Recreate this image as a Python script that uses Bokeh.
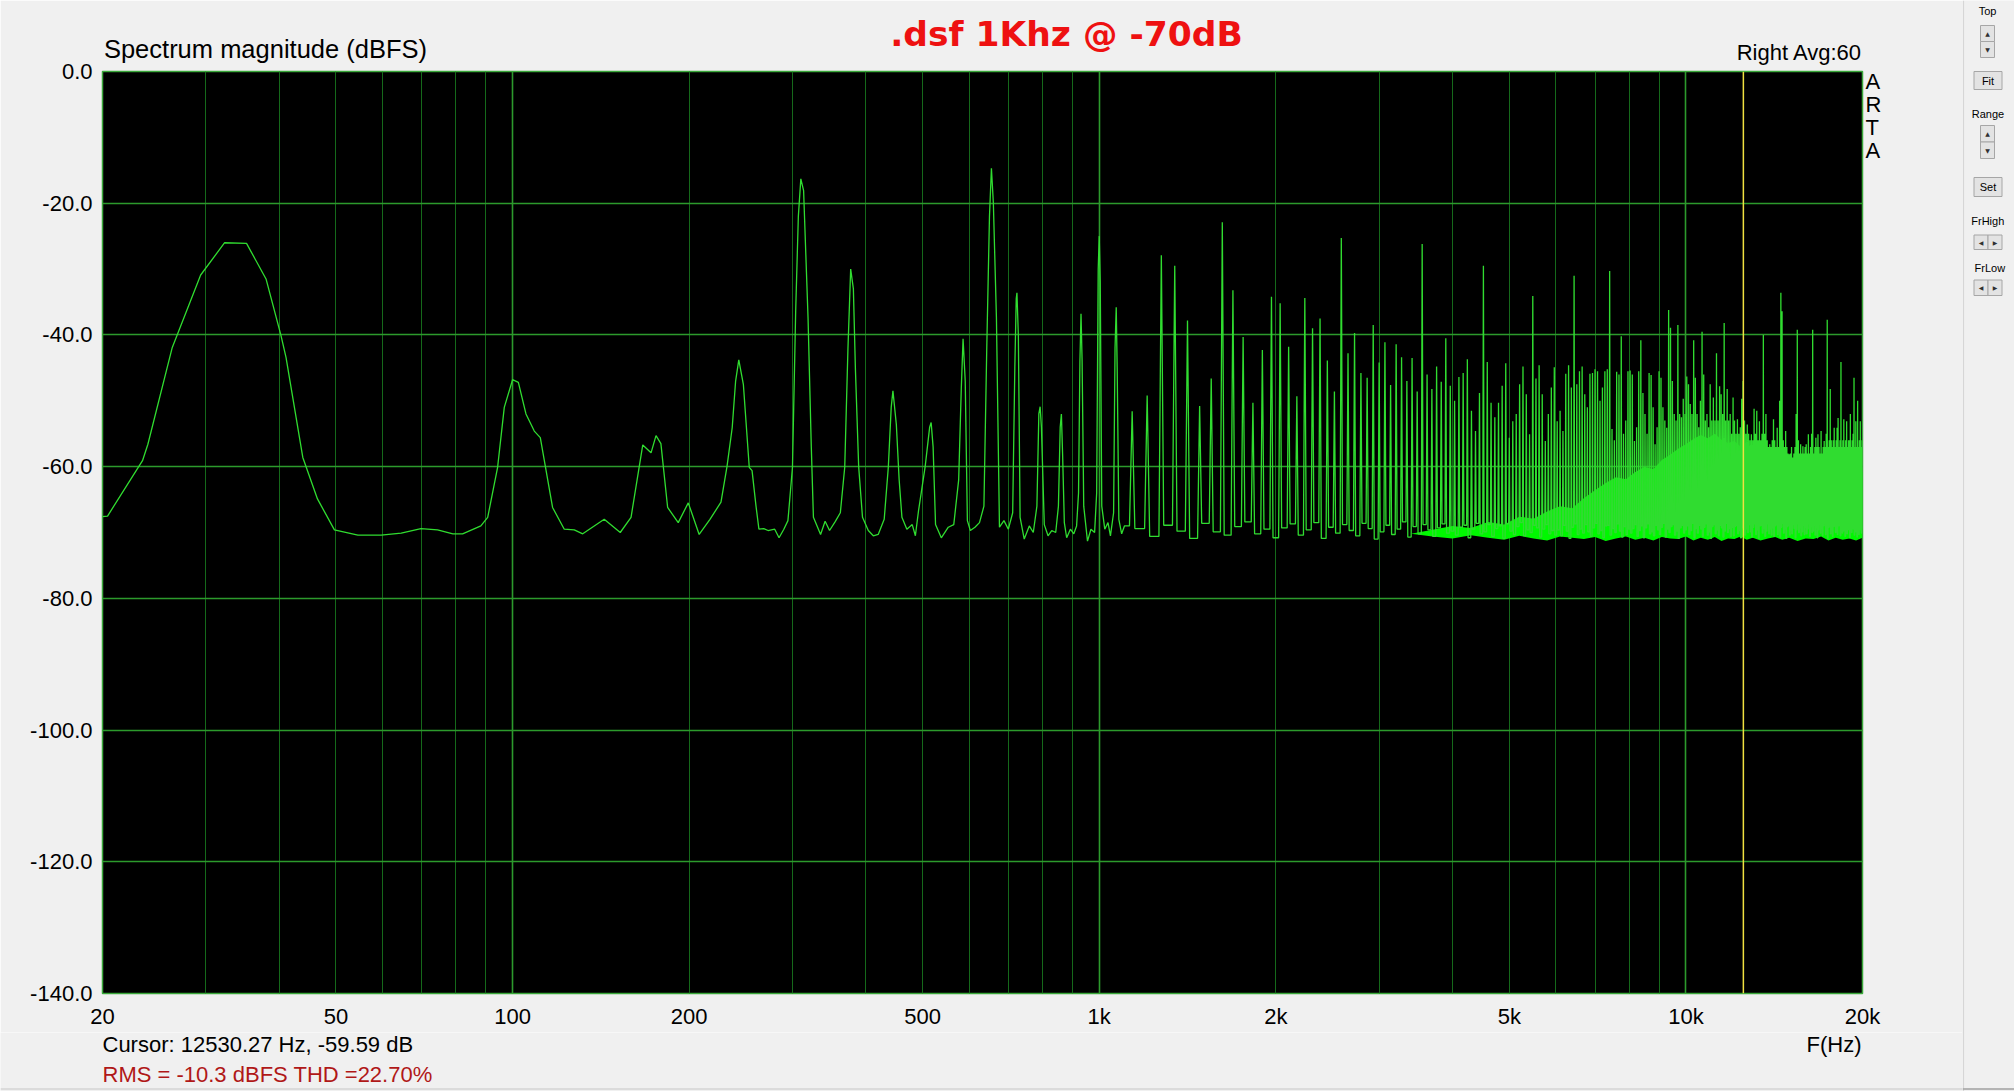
from bokeh.plotting import figure
from bokeh.models import Range1d, FixedTicker, Span, Grid, LogAxis, LinearAxis
from bokeh.layouts import row, column
from bokeh.embed import file_html
from bokeh.resources import INLINE
from bokeh.core.properties import value

# ---------------- texts ----------------
title_text = ".dsf 1Khz @ -70dB"
y_title = "Spectrum magnitude (dBFS)"
channel_text = "Right  Avg:60"
cursor_text = "Cursor: 12530.27 Hz, -59.59 dB"
stats_text = "RMS =  -10.3 dBFS  THD =22.70%"
x_unit_text = "F(Hz)"
side_text = ["A", "R", "T", "A"]
cursor_f = 12530.27

# ---------------- axes ----------------
x_ticks = [20, 50, 100, 200, 500, 1000, 2000, 5000, 10000, 20000]
x_tick_labels = ["20", "50", "100", "200", "500", "1k", "2k", "5k", "10k", "20k"]
x_grid_minor = [30, 40, 50, 60, 70, 80, 90, 200, 300, 400, 500, 600, 700, 800, 900,
                2000, 3000, 4000, 5000, 6000, 7000, 8000, 9000]
x_grid_decade = [100, 1000, 10000]
y_ticks = [0, -20, -40, -60, -80, -100, -120, -140]
y_tick_labels = ["0.0", "-20.0", "-40.0", "-60.0", "-80.0", "-100.0", "-120.0", "-140.0"]

# ---------------- spectrum: low band trace 20 Hz .. 1.1 kHz ----------------
low_f = [20, 20.4, 23.4, 23.9, 26.3, 29.4, 32.3, 35.2, 38.0, 40.3, 41.1, 43.9, 46.5, 49.7,
         54.5, 59.7, 64.6, 69.8, 74.5, 79.1, 82.2, 88.3, 90.7, 94.3, 96.8, 100, 102.3, 105.4,
         108.9, 111.5, 117, 122.5, 127.4, 131.7, 143.3, 152.6, 159.2, 166.7, 172.2, 175.6, 179,
         183.8, 191.6, 199.3, 208, 217, 226.6, 232, 236.8, 240, 243, 247.4, 253.2, 256, 260,
         263, 268, 272.6, 279.8, 284.6, 290, 294.7, 300, 303.8, 307, 310, 313.4, 318.9, 323,
         325.7, 335, 341, 347, 355, 362, 368.3, 373, 377, 381, 384, 389, 394.9, 404, 412, 420,
         430, 437, 442, 445, 451, 456, 461, 470, 480, 486, 492, 505, 514, 517, 521, 526, 538,
         553, 565, 576, 582, 586, 591, 596, 603, 614, 625, 636, 643, 650, 655, 660, 668, 676,
         688, 700, 712, 718, 722, 724, 728, 733, 745, 760, 772, 783, 789, 793, 797, 806, 818,
         830, 843, 852, 858, 862, 866, 872, 880, 893, 905, 915, 922, 927, 931, 935, 941, 955,
         968, 982, 990, 996, 1000, 1004, 1010, 1022, 1035, 1045, 1058, 1064, 1069, 1073, 1080,
         1092, 1104]
low_db = [-67.6, -67.5, -59.1, -56.6, -41.9, -30.9, -26.0, -26.1, -31.5, -40.1, -43.4, -58.6,
          -64.9, -69.6, -70.4, -70.4, -70.1, -69.4, -69.6, -70.2, -70.2, -69.0, -67.7, -60.1,
          -51.0, -46.8, -47.2, -52.0, -54.6, -55.6, -66.2, -69.5, -69.6, -70.2, -68.0, -70.0,
          -67.7, -56.7, -57.9, -55.3, -56.5, -66.2, -68.5, -65.5, -70.3, -68.0, -65.4, -60.0,
          -54.1, -47.0, -43.8, -47.5, -60.1, -60.6, -66.0, -69.5, -69.4, -69.7, -69.5, -70.8,
          -69.5, -68.2, -60.1, -36.4, -22.0, -16.3, -18.1, -37.4, -57.0, -67.7, -70.3, -68.3,
          -69.7, -68.3, -67.0, -60.1, -42.0, -30.0, -33.0, -45.0, -60.0, -67.7, -69.7, -70.5,
          -70.3, -68.0, -60.1, -51.0, -48.5, -53.6, -62.0, -67.7, -69.5, -68.8, -70.5, -66.7,
          -60.0, -54.0, -53.3, -57.0, -68.8, -70.8, -69.2, -68.8, -62.0, -48.0, -40.6, -47.0,
          -68.2, -69.7, -69.2, -68.5, -66.0, -42.4, -22.0, -14.7, -20.0, -37.4, -69.2, -68.2,
          -69.5, -67.0, -45.0, -34.5, -33.6, -40.0, -67.7, -71.0, -69.0, -70.0, -66.0, -52.0,
          -50.9, -54.0, -68.8, -70.5, -69.7, -70.0, -66.0, -54.0, -52.0, -58.0, -68.5, -70.8,
          -69.5, -70.2, -69.0, -64.0, -44.0, -36.8, -44.0, -66.0, -71.3, -69.5, -70.0, -64.0,
          -30.0, -25.0, -32.0, -66.0, -69.5, -68.5, -70.5, -67.0, -42.0, -35.8, -45.0, -68.0,
          -70.2, -69.0]

# ---------------- spectrum: spurious tones 1.1 kHz .. 20 kHz ----------------
tone_f = [
    1138, 1207, 1276, 1345, 1414, 1483, 1552, 1621, 1690, 1759, 1828, 1897, 1966,
    2034, 2103, 2172, 2241, 2310, 2379, 2448, 2517, 2586, 2655, 2724, 2793, 2862, 2931, 3000,
    3069, 3138, 3207, 3276, 3345, 3414, 3483, 3552, 3621, 3690, 3759, 3828, 3897, 3966,
    4034, 4103, 4172, 4241, 4310, 4379, 4448, 4517, 4586, 4655, 4724, 4793, 4862, 4931, 5000,
    5069, 5138, 5207, 5276, 5345, 5414, 5483, 5552, 5621, 5690, 5759, 5828, 5897, 5966,
    6034, 6103, 6172, 6241, 6310, 6379, 6448, 6517, 6586, 6655, 6724, 6793, 6862, 6931, 7000,
    7069, 7138, 7207, 7276, 7345, 7414, 7483, 7552, 7621, 7690, 7759, 7828, 7897, 7966,
    8034, 8103, 8172, 8241, 8310, 8379, 8448, 8517, 8586, 8655, 8724, 8793, 8862, 8931, 9000,
    9069, 9138, 9207, 9276, 9345, 9414, 9483, 9552, 9621, 9690, 9759, 9828, 9897, 9966,
    10034, 10103, 10172, 10241, 10310, 10379, 10448, 10517, 10586, 10655, 10724, 10793, 10862,
    10931, 11000, 11069, 11138, 11207, 11276, 11345, 11414, 11483, 11552, 11621, 11690, 11759,
    11828, 11897, 11966,
    12034, 12103, 12172, 12241, 12310, 12379, 12448, 12517, 12586, 12655, 12724, 12793, 12862,
    12931, 13000, 13069, 13138, 13207, 13276, 13345, 13414, 13483, 13552, 13621, 13690, 13759,
    13828, 13897, 13966,
    14034, 14103, 14172, 14241, 14310, 14379, 14448, 14517, 14586, 14655, 14724, 14793, 14862,
    14931, 15000, 15069, 15138, 15207, 15276, 15345, 15414, 15483, 15552, 15621, 15690, 15759,
    15828, 15897, 15966,
    16034, 16103, 16172, 16241, 16310, 16379, 16448, 16517, 16586, 16655, 16724, 16793, 16862,
    16931, 17000, 17069, 17138, 17207, 17276, 17345, 17414, 17483, 17552, 17621, 17690, 17759,
    17828, 17897, 17966,
    18034, 18103, 18172, 18241, 18310, 18379, 18448, 18517, 18586, 18655, 18724, 18793, 18862,
    18931, 19000, 19069, 19138, 19207, 19276, 19345, 19414, 19483, 19552, 19621, 19690, 19759,
    19828, 19897, 19966]
tone_db = [
    -51.6, -49.2, -27.9, -29.5, -37.8, -50.8, -46.6, -22.9, -33.2, -40.3, -50.3, -42.3, -34.2,
    -35.2, -41.8, -49.3, -34.4, -39.0, -37.5, -43.9, -48.6, -25.3, -42.8, -39.7, -45.8, -46.5,
    -38.5, -44.2, -41.1, -47.6, -41.4, -43.4, -47.0, -43.5, -48.6, -26.2, -46.0, -48.2, -44.8,
    -47.1, -40.5, -47.7,
    -50.0, -46.4, -45.8, -43.7, -51.5, -54.6, -48.8, -29.5, -44.1, -50.3, -52.5, -50.3, -47.7,
    -44.3, -55.6, -53.1, -52.0, -47.5, -44.8, -49.0, -55.1, -34.1, -46.6, -44.6, -49.0, -56.1,
    -52.0, -48.0, -44.9,
    -53.1, -51.5, -54.6, -45.9, -44.6, -48.0, -31.0, -47.5, -45.5, -44.8, -49.0, -51.0, -45.9,
    -45.8, -45.2, -45.5, -50.0, -48.0, -45.5, -45.2, -30.3, -54.3, -56.0, -45.6, -46.0, -40.2,
    -55.0, -53.0, -45.5,
    -45.4, -46.0, -56.1, -54.0, -45.5, -40.8, -48.8, -52.0, -55.0, -45.8, -46.1, -51.0, -56.6,
    -54.0, -45.5, -46.5, -51.0, -53.0, -54.1, -36.2, -38.9, -47.0, -52.0, -53.0, -38.5, -52.0,
    -52.5, -49.7, -52.0,
    -46.3, -47.5, -50.5, -52.0, -40.8, -46.5, -52.0, -54.0, -50.0, -39.5, -46.0, -53.0, -52.0,
    -54.0, -47.5, -53.0, -49.5, -53.0, -42.8, -53.0, -47.8, -49.0, -52.0, -38.2, -53.0, -48.2,
    -53.0, -52.0, -55.0,
    -49.5, -53.0, -55.0, -52.8, -55.0, -54.0, -49.7, -47.0, -53.0, -55.0, -53.6, -55.0, -56.0,
    -55.1, -56.0, -51.2, -55.0, -51.5, -56.0, -53.1, -56.0, -55.0, -40.0, -55.0, -52.0, -56.0,
    -57.0, -56.6, -57.0,
    -56.0, -52.8, -56.0, -57.0, -54.1, -57.0, -50.0, -33.6, -36.4, -56.0, -57.0, -54.6, -57.0,
    -58.0, -58.1, -58.0, -57.0, -58.6, -58.0, -57.0, -52.0, -39.2, -56.0, -58.0, -56.6, -58.0,
    -56.9, -58.0, -57.0,
    -56.6, -58.0, -55.1, -58.0, -57.0, -55.0, -39.2, -58.0, -57.0, -55.6, -57.0, -55.1, -57.0,
    -58.0, -54.6, -58.0, -57.0, -56.1, -57.0, -55.0, -37.7, -57.0, -56.0, -48.2, -56.0, -57.0,
    -56.0, -54.1, -57.0,
    -56.0, -54.1, -52.6, -57.0, -56.0, -44.1, -57.0, -56.0, -52.8, -57.0, -56.0, -53.1, -57.0,
    -56.0, -56.0, -52.0, -57.0, -56.0, -55.0, -46.5, -57.0, -53.1, -57.0, -50.0, -57.0, -56.0,
    -53.1, -57.0, -56.0]
# noise floor level in the gap that follows each tone
gap_db = [
    -69.4, -70.6, -68.9, -69.8, -70.9, -68.6, -69.9, -70.4, -69.1, -68.4, -70.2, -69.5, -70.8,
    -69.3, -68.7, -70.4, -69.6, -68.5, -70.9, -69.2, -70.1, -68.8, -69.7, -70.5, -68.6, -69.4,
    -71.0, -69.9, -68.9, -70.3, -69.5, -68.4, -70.7, -69.1, -70.2, -68.8, -69.6, -70.6, -69.3,
    -68.7, -70.1, -69.8,
    -70.4, -69.2, -68.9, -70.8, -69.5, -68.6, -70.2, -69.9, -68.8, -70.6, -69.4, -69.0, -70.9,
    -68.7, -69.8, -70.3, -69.1, -68.5, -70.5, -69.6, -70.0, -68.9, -69.3, -70.7, -69.5, -68.8,
    -70.2, -69.7, -70.4,
    -69.6, -70.5, -68.9, -69.8, -70.9, -69.2, -68.7, -70.3, -69.5, -70.1, -68.8, -69.9, -70.6,
    -69.3, -68.6, -70.2, -69.7, -70.8, -69.0, -68.9, -70.4, -69.4, -70.0, -68.7, -69.8, -70.7,
    -69.1, -70.3, -69.5,
    -70.1, -69.4, -68.8, -70.6, -69.7, -69.0, -70.8, -69.3, -68.7, -70.2, -69.9, -70.5, -68.9,
    -69.6, -70.3, -69.2, -68.6, -70.7, -69.5, -70.0, -69.1, -68.8, -70.4, -69.8, -70.9, -69.3,
    -68.9, -70.1, -69.6,
    -69.0, -70.3, -69.7, -68.6, -70.8, -69.4, -70.1, -68.9, -69.5, -70.6, -69.2, -68.7, -70.4,
    -69.9, -70.9, -69.1, -68.8, -70.2, -69.6, -70.5, -68.9, -69.3, -70.7, -69.8, -68.6, -70.0,
    -69.4, -70.6, -69.2,
    -70.5, -69.1, -68.9, -70.2, -69.7, -70.8, -69.3, -68.6, -70.4, -69.5, -70.0, -68.8, -69.9,
    -70.7, -69.2, -68.7, -70.3, -69.6, -70.9, -69.0, -68.9, -70.1, -69.4, -70.6, -69.8, -68.7,
    -70.2, -69.5, -70.4,
    -69.3, -70.6, -69.0, -68.8, -70.3, -69.8, -70.7, -69.2, -68.6, -70.1, -69.5, -70.9, -69.1,
    -68.9, -70.4, -69.7, -70.2, -68.8, -69.4, -70.8, -69.6, -68.7, -70.0, -69.3, -70.5, -69.9,
    -68.9, -70.3, -69.2,
    -70.2, -69.5, -68.7, -70.6, -69.1, -70.0, -69.8, -68.9, -70.4, -69.3, -70.8, -69.6, -68.8,
    -70.1, -69.4, -70.5, -69.0, -68.6, -70.3, -69.7, -70.9, -69.2, -68.8, -70.2, -69.5, -70.6,
    -69.1, -68.9, -70.0,
    -69.7, -70.3, -69.0, -68.8, -70.5, -69.4, -70.1, -69.8, -68.7, -70.6, -69.3, -70.2, -68.9,
    -69.6, -70.8, -69.1, -70.0, -68.6, -69.5, -70.4, -69.9, -68.8, -70.7, -69.2, -70.3, -69.6,
    -68.9, -70.1, -69.4]

# dense intermodulation "mass" above ~3.5 kHz: lower and upper edge
mass_f = [3400, 3700, 4000, 4300, 4600, 4900, 5200, 5500, 5800, 6100, 6400, 6700, 7000, 7300,
          7600, 7900, 8200, 8500, 8800, 9100, 9400, 9700, 10000, 10300, 10600, 10900, 11200,
          11500, 11800, 12100, 12400, 12700, 13000, 13400, 13800, 14200, 14600, 15000, 15500,
          16000, 16500, 17000, 17500, 18000, 18500, 19000, 19500, 20000]
mass_top_db = [-70.2, -69.6, -69.0, -69.3, -68.4, -68.8, -67.6, -67.9, -66.8, -66.0, -66.3,
               -64.8, -63.6, -62.5, -61.6, -61.9, -60.8, -60.0, -60.4, -59.0, -58.2, -57.3,
               -56.6, -55.8, -55.2, -55.7, -55.0, -55.9, -56.4, -56.1, -57.0, -57.6, -58.0,
               -58.7, -58.4, -59.3, -59.6, -60.2, -59.9, -60.5, -60.8, -60.4, -60.9, -60.6,
               -61.0, -60.7, -61.0, -60.8]
mass_bot_db = [-70.2, -70.6, -70.9, -70.4, -70.8, -71.1, -70.5, -70.9, -71.2, -70.6, -70.8,
               -71.0, -70.7, -71.3, -70.9, -70.6, -71.1, -70.8, -71.2, -70.7, -70.9, -71.0,
               -70.6, -71.2, -70.8, -71.1, -70.7, -71.3, -70.9, -71.0, -70.6, -71.1, -70.8,
               -71.2, -70.9, -70.7, -71.1, -70.8, -71.3, -70.9, -71.0, -70.6, -71.2, -70.8,
               -71.1, -70.9, -71.2, -70.8]

assert len(low_f) == len(low_db), (len(low_f), len(low_db))
assert len(tone_f) == len(tone_db) == len(gap_db), (len(tone_f), len(tone_db), len(gap_db))
assert len(mass_f) == len(mass_top_db) == len(mass_bot_db)

# ---------------- build the spectrum polyline ----------------
LEAK_HZ = 12.0   # drawn half-width of each tone's skirt
spec_f = list(low_f)
spec_db = list(low_db)
prev = low_db[-1]
for f, d, g in zip(tone_f, tone_db, gap_db):
    spec_f += [f - LEAK_HZ, f, f + LEAK_HZ]
    spec_db += [prev, d, g]
    prev = g

FONT = "Liberation Sans"
BG = "#f0f0f0"

# ---------------- layout helpers (page pixel -> axis position) ----------------
FRAME_L, FRAME_W = 102.0, 1760.0
DECADE_PX = FRAME_W / 3.0


def hz_at(px):
    return round(20.0 * 10 ** ((px - FRAME_L) / DECADE_PX), 2)


def text_axis(cls, ticks, labels, size, color, standoff, font=FONT, style="normal"):
    return cls(ticker=FixedTicker(ticks=ticks),
               major_label_overrides={t: s for t, s in zip(ticks, labels)},
               axis_line_color=None, major_tick_line_color=None, minor_tick_line_color=None,
               major_label_text_font=font, major_label_text_font_size=size,
               major_label_text_color=color, major_label_text_font_style=style,
               major_label_standoff=standoff)


# ---------------- main figure ----------------
p = figure(width=1962, height=1032, x_axis_type="log",
           x_range=Range1d(20, 20000), y_range=Range1d(-140, 0),
           output_backend="svg", toolbar_location=None, title_location=None,
           min_border_left=102, min_border_right=100, min_border_top=71, min_border_bottom=39,
           background_fill_color="#000000", border_fill_color=BG)
p.frame_align = False
p.outline_line_color = "#3aa83a"
p.outline_line_width = 1.5

xax = p.below[0]
yax = p.left[0]
for ax in (xax, yax):
    ax.axis_line_color = None
    ax.major_tick_line_color = None
    ax.minor_tick_line_color = None
    ax.major_label_text_font = FONT
    ax.major_label_text_font_size = "22px"
    ax.major_label_text_color = "#000000"
xax.ticker = FixedTicker(ticks=x_ticks)
xax.major_label_overrides = {t: s for t, s in zip(x_ticks, x_tick_labels)}
xax.major_label_standoff = 4
yax.ticker = FixedTicker(ticks=y_ticks)
yax.major_label_overrides = {t: s for t, s in zip(y_ticks, y_tick_labels)}
yax.major_label_standoff = 4

p.xgrid.ticker = FixedTicker(ticks=x_grid_minor)
p.xgrid.grid_line_color = "#15691a"
p.xgrid.grid_line_width = 1
p.add_layout(Grid(dimension=0, ticker=FixedTicker(ticks=x_grid_decade),
                  grid_line_color="#2c9a2c", grid_line_width=1.6))
p.ygrid.ticker = FixedTicker(ticks=y_ticks)
p.ygrid.grid_line_color = "#2c9a2c"
p.ygrid.grid_line_width = 1.3

# spectrum
p.varea(x=mass_f, y1=mass_bot_db, y2=mass_top_db, fill_color="#00f800", fill_alpha=1.0)
p.line(spec_f, spec_db, line_color="#30dc30", line_width=1.3)

# cursor
p.add_layout(Span(location=cursor_f, dimension="height", line_color="#f0e040", line_width=1.5))

# header texts (stacked above the frame, innermost first)
p.add_layout(text_axis(LogAxis, [hz_at(1802)], [channel_text], "22px", "#000000", 1), "above")
p.add_layout(text_axis(LogAxis, [hz_at(265)], [y_title], "25.5px", "#000000", -32), "above")
p.add_layout(text_axis(LogAxis, [hz_at(1066)], [title_text], "34.5px", "#ee1111", -28,
                       font="DejaVu Sans", style="bold"), "above")
# instrument name, letter by letter at the right edge
p.add_layout(text_axis(LinearAxis, [-1.5, -5.0, -8.5, -12.0], side_text, "22px", "#000000", -3),
             "right")

# ---------------- footer strip (cursor read-out, unit, statistics) ----------------
foot = figure(width=1962, height=59, x_range=Range1d(0, 1962), y_range=Range1d(1091, 1032),
              output_backend="svg", toolbar_location=None, title_location=None, min_border=0,
              x_axis_type=None, y_axis_type=None, background_fill_color=BG, border_fill_color=BG)
foot.frame_align = False
foot.outline_line_color = None
foot.text(x=[102, 102], y=[1044, 1073.7], text=[cursor_text, stats_text],
          text_font=value(FONT), text_font_size="22px", text_color=["#000000", "#b01818"],
          text_align="left", text_baseline="middle")
foot.text(x=[1861], y=[1044], text=[x_unit_text], text_font=value(FONT), text_font_size="22px",
          text_color="#000000", text_align="right", text_baseline="middle")
foot.segment(x0=[0], y0=[1088.5], x1=[1962], y1=[1088.5], line_color="#d4d4d4", line_width=1.5)

# ---------------- side control panel ----------------
p2 = figure(width=52, height=1091, x_range=Range1d(1962, 2014), y_range=Range1d(1091, 0),
            output_backend="svg", toolbar_location=None, title_location=None, min_border=0,
            x_axis_type=None, y_axis_type=None, background_fill_color=BG, border_fill_color=BG)
p2.frame_align = False
p2.outline_line_color = None
p2.segment(x0=[1962.8, 1962], y0=[0, 1088.5], x1=[1962.8, 2014], y1=[1091, 1088.5],
           line_color=["#d6d6d6", "#a0a0a0"], line_width=1.5)
btn_l = [1980, 1980, 1973.5, 1980, 1980, 1973.5, 1973.5, 1987.5, 1973.5, 1987.5]
btn_r = [1994, 1994, 2001.5, 1994, 1994, 2001.5, 1987.5, 2001.5, 1987.5, 2001.5]
btn_t = [25, 41, 71, 125, 141.5, 177, 234.5, 234.5, 279.5, 279.5]
btn_b = [41, 57, 89, 141.5, 158, 196, 249, 249, 295, 295]
p2.quad(left=btn_l, right=btn_r, top=btn_t, bottom=btn_b,
        fill_color="#e3e3e3", line_color="#a6a6a6", line_width=1)
p2.text(x=[1987, 1987, 1987, 1987, 1980.5, 1994.5, 1980.5, 1994.5],
        y=[33, 49, 133.3, 149.8, 241.8, 241.8, 287.3, 287.3],
        text=["\u25b2", "\u25bc", "\u25b2", "\u25bc", "\u25c0", "\u25b6", "\u25c0", "\u25b6"],
        text_font=value("DejaVu Sans"), text_font_size="6px", text_color="#303030",
        text_align="center", text_baseline="middle")
p2.text(x=[1987, 1987.5, 1987.5, 1987.5, 1987.3, 1989.3],
        y=[10.7, 80, 113, 186.5, 220.7, 267.7],
        text=["Top", "Fit", "Range", "Set", "FrHigh", "FrLow"],
        text_font=value(FONT), text_font_size="11px", text_color="#000000",
        text_align="center", text_baseline="middle")

layout = row(column(p, foot), p2)
open("out.html", "w").write(file_html(layout, INLINE))
